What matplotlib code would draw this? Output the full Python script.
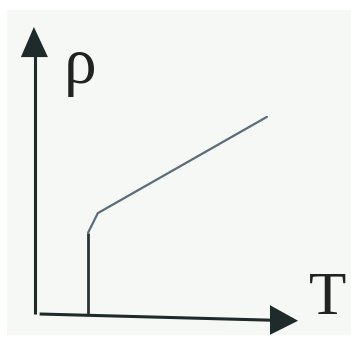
import numpy as np
import matplotlib
matplotlib.use('Agg')
import matplotlib.pyplot as plt

# resistivity curve, arbitrary units (Tc = 1)
T_normal = [1.0, 1.19, 4.44]
rho_normal = [1.56, 1.94, 3.79]
T_super = [1.0, 1.0]
rho_super = [0.0, 1.56]

fig = plt.figure(figsize=(3.51, 3.40), dpi=100)
fig.patch.set_facecolor('white')
ax = fig.add_axes([0, 0, 1, 1])
ax.set_xlim(-0.692, 6.058)
ax.set_ylim(-0.5, 6.038)
ax.axis('off')

# faint grey photo background
ax.add_patch(plt.Rectangle((-0.56, -0.4), 6.7, 6.25, color='#f6f8f6', zorder=0, lw=0))

axis_col = '#1f2a2b'
# y axis with arrow
ax.plot([-0.02, -0.02], [0.0, 5.0], color=axis_col, lw=2.2, solid_capstyle='butt')
ax.fill([-0.29, 0.23, -0.04], [4.94, 4.94, 5.52], color=axis_col, lw=0)
# x axis with arrow (a bit tilted, like the photo)
ax.plot([0.07, 4.55], [0.0, -0.12], color=axis_col, lw=2.2, solid_capstyle='butt')
ax.fill([4.5, 4.5, 5.04], [0.17, -0.40, -0.13], color=axis_col, lw=0)

# curve
ax.plot(T_super, rho_super, color='#2e3436', lw=2.0, solid_capstyle='butt')
ax.plot(T_normal, rho_normal, color='#5c6c78', lw=1.6, solid_capstyle='round')

ax.text(0.85, 4.75, 'ρ', fontsize=47, family='Liberation Serif', color='#222',
        ha='center', va='center')
ax.text(5.6, 0.28, 'T', fontsize=44, family='Liberation Serif', color='#222',
        ha='center', va='center')

fig.savefig('out.png', dpi=100, facecolor=fig.get_facecolor())
